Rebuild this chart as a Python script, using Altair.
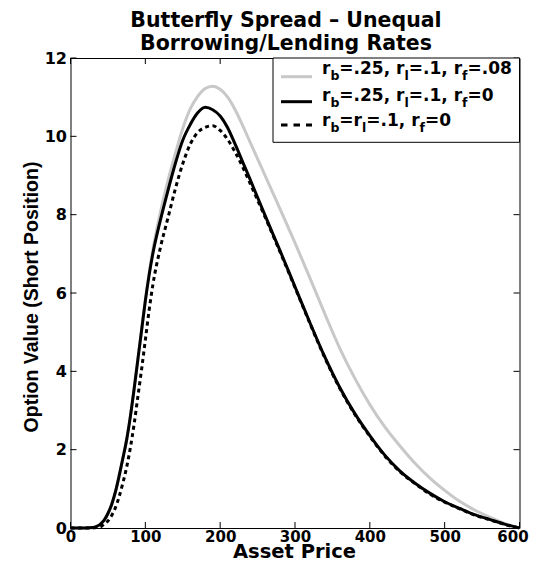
import altair as alt
import pandas as pd

# ---------------- data ----------------
X_PRICE = [0, 20, 30, 35, 40, 45, 50, 55, 60, 65,
           70, 75, 80, 85, 90, 95, 100, 105, 110, 120,
           130, 140, 150, 160, 170, 180, 190, 200, 210, 220,
           230, 240, 260, 280, 300, 320, 340, 360, 380, 400,
           420, 440, 460, 480, 500, 520, 540, 560, 580, 600]

# r_b=.25, r_l=.1, r_f=.08  (grey)
Y_RF08 = [0, 0, 0.01, 0.04, 0.1, 0.2, 0.37, 0.6, 0.92, 1.33,
          1.78, 2.25, 2.85, 3.55, 4.3, 5.05, 5.82, 6.5, 7.1, 8.05,
          8.85, 9.55, 10.2, 10.7, 11.02, 11.22, 11.28, 11.2, 11.0, 10.68,
          10.28, 9.85, 9.0, 8.15, 7.28, 6.38, 5.46, 4.58, 3.82, 3.15,
          2.58, 2.1, 1.66, 1.28, 0.96, 0.68, 0.46, 0.28, 0.12, 0]

# r_b=.25, r_l=.1, r_f=0  (solid black)
Y_RF0 = [0, 0, 0.01, 0.04, 0.1, 0.2, 0.37, 0.6, 0.92, 1.33,
         1.78, 2.25, 2.85, 3.55, 4.3, 5.05, 5.8, 6.45, 7.0, 7.85,
         8.6, 9.3, 9.9, 10.3, 10.6, 10.74, 10.68, 10.52, 10.22, 9.8,
         9.35, 8.9, 7.98, 7.08, 6.16, 5.24, 4.36, 3.58, 2.92, 2.36,
         1.86, 1.46, 1.15, 0.89, 0.67, 0.5, 0.34, 0.22, 0.1, 0]

# r_b=r_l=.1, r_f=0  (dashed black)
Y_EQUAL = [0, 0, 0, 0.01, 0.03, 0.1, 0.18, 0.32, 0.52, 0.8,
           1.15, 1.55, 2.05, 2.65, 3.35, 4.05, 4.8, 5.55, 6.2, 7.15,
           7.9, 8.65, 9.3, 9.8, 10.1, 10.23, 10.27, 10.15, 9.92, 9.6,
           9.22, 8.8, 7.94, 7.05, 6.14, 5.22, 4.34, 3.56, 2.9, 2.34,
           1.84, 1.44, 1.14, 0.87, 0.66, 0.49, 0.33, 0.21, 0.09, 0]

X_TICKS = [0, 100, 200, 300, 400, 500, 600]
Y_TICKS = [0, 2, 4, 6, 8, 10, 12]

TITLE_LINES = ["Butterfly Spread \u2013 Unequal", "Borrowing/Lending Rates"]
X_TITLE = "Asset Price"
Y_TITLE = "Option Value (Short Position)"

# legend rows: (text piece, is_subscript)
LEGEND_ROWS = [
    [("r", False), ("b", True), ("=.25, r", False), ("l", True), ("=.1, r", False), ("f", True), ("=.08", False)],
    [("r", False), ("b", True), ("=.25, r", False), ("l", True), ("=.1, r", False), ("f", True), ("=0", False)],
    [("r", False), ("b", True), ("=r", False), ("l", True), ("=.1, r", False), ("f", True), ("=0", False)],
]

# ---------------- layout ----------------
W, H = 449, 470
FONT = "DejaVu Sans"
GREY = "#c8c8c8"

xscale = alt.Scale(domain=[0, 600], nice=False, zero=False)
yscale = alt.Scale(domain=[0, 12], nice=False, zero=False)

xaxis = alt.Axis(values=X_TICKS, title=X_TITLE, ticks=False, tickSize=0, domain=False, grid=False,
                 labelFlush=False, labelFont=FONT, labelFontWeight="bold", labelFontSize=15,
                 labelColor="black", labelPadding=1,
                 labelOffset={"condition": {"test": "datum.value === 600", "value": -7}, "value": 0},
                 titleFont=FONT, titleFontWeight="bold", titleFontSize=19.5, titleColor="black",
                 titleX=223.5, titleY=29.2, titleBaseline="alphabetic", titleAlign="center")
yaxis = alt.Axis(values=Y_TICKS, title=Y_TITLE, ticks=False, tickSize=0, domain=False, grid=False,
                 labelFont=FONT, labelFontWeight="bold", labelFontSize=16,
                 labelColor="black", labelPadding=4,
                 titleFont="Liberation Sans", titleFontWeight="bold", titleFontSize=19.5,
                 titleColor="black", titleX=-33.5, titleY=238.5, titleAngle=270,
                 titleBaseline="alphabetic", titleAlign="center")

X = alt.X("x:Q", scale=xscale, axis=xaxis)
Y = alt.Y("y:Q", scale=yscale, axis=yaxis)


def curve(yvals, color, dash=None):
    df = pd.DataFrame({"x": X_PRICE, "y": yvals})
    kw = dict(color=color, strokeWidth=3, interpolate="monotone")
    if dash:
        kw["strokeDash"] = dash
    return alt.Chart(df).mark_line(**kw).encode(x=X, y=Y)


layers = [
    curve(Y_RF08, GREY),
    curve(Y_RF0, "black"),
    curve(Y_EQUAL, "black", [4, 3.5]),
]

# inward ticks on all four sides
xt = pd.DataFrame({"x": X_TICKS})
yt = pd.DataFrame({"y": Y_TICKS})
TL = 6
layers += [
    alt.Chart(xt).mark_rule(color="black", strokeWidth=1).encode(x=X, y=alt.value(H), y2=alt.value(H - TL)),
    alt.Chart(xt).mark_rule(color="black", strokeWidth=1).encode(x=X, y=alt.value(0), y2=alt.value(TL)),
    alt.Chart(yt).mark_rule(color="black", strokeWidth=1).encode(y=Y, x=alt.value(0), x2=alt.value(TL)),
    alt.Chart(yt).mark_rule(color="black", strokeWidth=1).encode(y=Y, x=alt.value(W), x2=alt.value(W - TL)),
]

one = pd.DataFrame({"k": [0]})

# title as two text lines above the plot
for line, by in zip(TITLE_LINES, [-31.0, -7.8]):
    layers.append(alt.Chart(one).mark_text(
        text=line, font=FONT, fontWeight="bold", fontSize=20.5, color="black",
        align="center", baseline="alphabetic").encode(x=alt.value(215.5), y=alt.value(by)))

# legend box
layers.append(
    alt.Chart(one).mark_rect(fill="white", stroke="black", strokeWidth=1).encode(
        x=alt.value(202.5), x2=alt.value(W), y=alt.value(0), y2=alt.value(84.3))
)

LINE_Y = [18.7, 43.7, 67.0]
BASE_Y = [16.3, 42.7, 68.0]
STYLES = [(GREY, None), ("black", None), ("black", [6.5, 6])]
for (col, dash), ly in zip(STYLES, LINE_Y):
    kw = dict(color=col, strokeWidth=3)
    if dash:
        kw["strokeDash"] = dash
    layers.append(alt.Chart(one).mark_rule(**kw).encode(
        x=alt.value(210.5), x2=alt.value(241.5), y=alt.value(ly)))

# widths (em) of DejaVu Sans Bold glyphs, for placing subscript pieces
GW = {"r": 0.493, "b": 0.716, "l": 0.343, "f": 0.435, "=": 0.838, ".": 0.380,
      ",": 0.380, " ": 0.348, "0": 0.696, "1": 0.696, "2": 0.696, "5": 0.696, "8": 0.696}
MAIN_FS, SUB_FS, SUB_DY = 17, 12.5, 6
TEXT_X0 = 251.5
for row, by in zip(LEGEND_ROWS, BASE_Y):
    cx = TEXT_X0
    for txt, sub in row:
        fs = SUB_FS if sub else MAIN_FS
        layers.append(alt.Chart(one).mark_text(
            text=txt, font=FONT, fontWeight="bold", fontSize=fs, color="black",
            align="left", baseline="alphabetic").encode(
            x=alt.value(cx), y=alt.value(by + (SUB_DY if sub else 0))))
        cx += sum(GW.get(c, 0.6) for c in txt) * fs

# total svg: 62.5 + 449 + 9.5 = 521 wide, 50 + 470 + 34 = 554 tall (fits the 8px page margin)
chart = alt.layer(*layers).properties(
    width=W, height=H,
    padding={"left": 62.5, "top": 50, "right": 9.5, "bottom": 34},
    autosize=alt.AutoSizeParams(type="none"),
).configure_view(stroke="black", strokeWidth=1)

chart.save("out.html", embed_options={"renderer": "svg", "actions": False})
